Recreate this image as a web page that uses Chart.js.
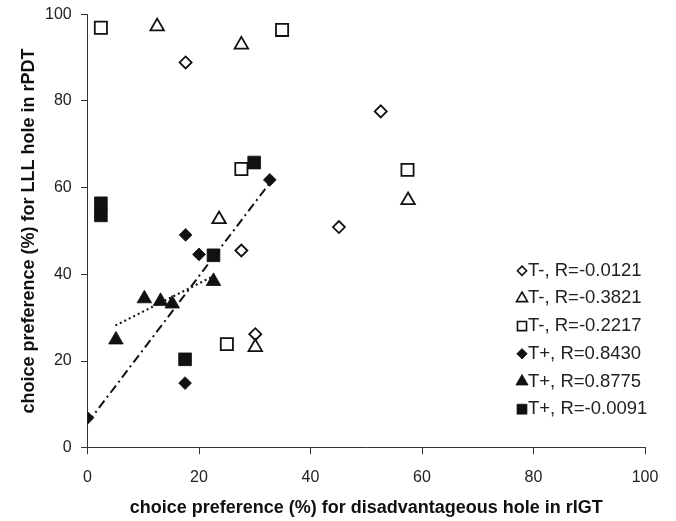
<!DOCTYPE html>
<html>
<head>
<meta charset="utf-8">
<script src="https://cdn.jsdelivr.net/npm/chart.js@4.4.1/dist/chart.umd.min.js"></script>
<style>
  html, body { margin:0; padding:0; background:#fff; }
  #wrap { width:676px; height:521px; }
</style>
</head>
<body>
<div id="wrap"><canvas id="chart" width="676" height="521"></canvas></div>
<script>
// ===============================
// Data
// ===============================

const seriesLabels = [
    "T-, R=-0.0121",
    "T-, R=-0.3821",
    "T-, R=-0.2217",
    "T+, R=0.8430",
    "T+, R=0.8775",
    "T+, R=-0.0091"
];

// T- open diamonds
const openDiamondX = [17.6, 52.6, 45.1, 27.6, 30.1];
const openDiamondY = [88.9, 77.6, 50.9, 45.5, 26.2];

// T- open triangles
const openTriangleX = [12.5, 27.6, 23.6, 57.5, 30.1];
const openTriangleY = [97.2, 93.0, 52.7, 57.1, 23.2];

// T- open squares
const openSquareX = [2.4, 34.9, 27.6, 57.4, 25.0];
const openSquareY = [96.9, 96.4, 64.3, 64.1, 23.9];

// T+ filled diamonds
const fullDiamondX = [0.0, 17.5, 17.6, 20.0, 32.7];
const fullDiamondY = [6.9, 14.9, 49.1, 44.6, 61.8];

// T+ filled triangles
const fullTriangleX = [5.1, 10.2, 13.1, 15.2, 22.6];
const fullTriangleY = [24.9, 34.4, 33.8, 33.2, 38.4];

// T+ filled squares
const fullSquareX = [29.9, 2.4, 2.4, 22.6, 17.5];
const fullSquareY = [65.8, 56.4, 53.6, 44.4, 20.4];

// trend lines (end points)
const diamondTrendX = [0.0, 32.7];
const diamondTrendY = [5.7, 61.1];
const triangleTrendX = [5.0, 22.6];
const triangleTrendY = [28.2, 39.6];

// axis ticks
const xTickValues = [0, 20, 40, 60, 80, 100];
const yTickValues = [0, 20, 40, 60, 80, 100];

const xTitle = "choice preference (%) for disadvantageous hole in rIGT";
const yTitle = "choice preference (%) for LLL hole in rPDT";

// ===============================
// Helpers
// ===============================

const INK = "#111";
const FONT = "'Liberation Sans', Arial, sans-serif";

function pts(xs, ys){
    return xs.map((x,i)=>({x:x, y:ys[i]}));
}

function markers(label, xs, ys, style, radius, filled, order){
    return {
        label: label,
        type: "scatter",
        data: pts(xs, ys),
        pointStyle: style,
        pointRadius: radius,
        pointHoverRadius: radius,
        pointBackgroundColor: filled ? INK : "#fff",
        pointBorderColor: INK,
        pointBorderWidth: filled ? 0.8 : 1.8,
        order: order
    };
}

function trend(xs, ys, dash){
    return {
        label: "trend",
        type: "line",
        data: pts(xs, ys),
        borderColor: INK,
        borderWidth: 2,
        borderDash: dash,
        pointRadius: 0,
        fill: false,
        order: 10
    };
}

// legend drawn inside the plot, bottom right
const legendMarks = [
    {style:"rectRot", radius:4.6, filled:false},
    {style:"triangle", radius:6.4, filled:false},
    {style:"rect", radius:6.4, filled:false},
    {style:"rectRot", radius:5.2, filled:true},
    {style:"triangle", radius:7.0, filled:true},
    {style:"rect", radius:7.0, filled:true}
];

const cornerLegend = {
    id: "cornerLegend",
    afterDatasetsDraw(chart){
        const ctx = chart.ctx;
        const mx = 522, tx = 528, y0 = 270.7, step = 27.7;
        ctx.save();
        ctx.font = "18.5px " + FONT;
        ctx.textBaseline = "middle";
        ctx.textAlign = "left";
        seriesLabels.forEach((lab,i)=>{
            const m = legendMarks[i];
            const y = y0 + i*step;
            ctx.fillStyle = m.filled ? INK : "#fff";
            ctx.strokeStyle = INK;
            ctx.lineWidth = m.filled ? 0.8 : 1.6;
            Chart.helpers.drawPoint(ctx, {
                pointStyle: m.style,
                radius: m.radius,
                rotation: 0,
                borderWidth: ctx.lineWidth
            }, mx, y);
            ctx.fillStyle = "#222";
            ctx.fillText(lab, tx, y);
        });
        ctx.restore();
    }
};

// ===============================
// Chart
// ===============================

const ctx = document.getElementById("chart");

const chart = new Chart(ctx, {
    type: "scatter",
    data: {
        datasets: [
            markers(seriesLabels[0], openDiamondX, openDiamondY, "rectRot", 6.0, false, 6),
            markers(seriesLabels[1], openTriangleX, openTriangleY, "triangle", 7.8, false, 5),
            markers(seriesLabels[2], openSquareX, openSquareY, "rect", 8.6, false, 4),
            markers(seriesLabels[3], fullDiamondX, fullDiamondY, "rectRot", 6.4, true, 3),
            markers(seriesLabels[4], fullTriangleX, fullTriangleY, "triangle", 8.4, true, 2),
            markers(seriesLabels[5], fullSquareX, fullSquareY, "rect", 9.0, true, 1),
            trend(diamondTrendX, diamondTrendY, [9,4,2,4]),
            trend(triangleTrendX, triangleTrendY, [2,3])
        ]
    },
    options: {
        responsive: false,
        animation: false,
        layout: {
            padding: {left:0, top:14.3, right:31, bottom:0}
        },
        plugins: {
            legend: {display:false},
            tooltip: {enabled:false}
        },
        scales: {
            x: {
                type: "linear",
                min: 0,
                max: 100,
                afterBuildTicks: (s)=>{ s.ticks = xTickValues.map(v=>({value:v})); },
                afterFit: (s)=>{ s.height = 73.3; s.paddingLeft = 0; s.paddingRight = 0; },
                grid: {
                    drawOnChartArea: false,
                    drawTicks: true,
                    tickLength: 6.5,
                    color: "#333"
                },
                border: {display:true, color:"#333", width:1},
                ticks: {
                    color: "#222",
                    font: {family: FONT, size: 16},
                    padding: 13.5,
                    maxRotation: 0
                },
                title: {
                    display: true,
                    text: xTitle,
                    color: "#111",
                    font: {family: FONT, size: 18, weight: "bold"},
                    padding: {top:0, bottom:2.4}
                }
            },
            y: {
                type: "linear",
                min: 0,
                max: 100,
                afterBuildTicks: (s)=>{ s.ticks = yTickValues.map(v=>({value:v})); },
                afterFit: (s)=>{ s.width = 87.5; s.paddingTop = 0; s.paddingBottom = 0; },
                grid: {
                    drawOnChartArea: false,
                    drawTicks: true,
                    tickLength: 6.5,
                    color: "#333"
                },
                border: {display:true, color:"#333", width:1},
                ticks: {
                    color: "#222",
                    font: {family: FONT, size: 16},
                    padding: 9.3
                },
                title: {
                    display: true,
                    text: yTitle,
                    color: "#111",
                    font: {family: FONT, size: 18, weight: "bold"},
                    padding: {top:18, bottom:0}
                }
            }
        }
    },
    plugins: [cornerLegend]
});
</script>
</body>
</html>
